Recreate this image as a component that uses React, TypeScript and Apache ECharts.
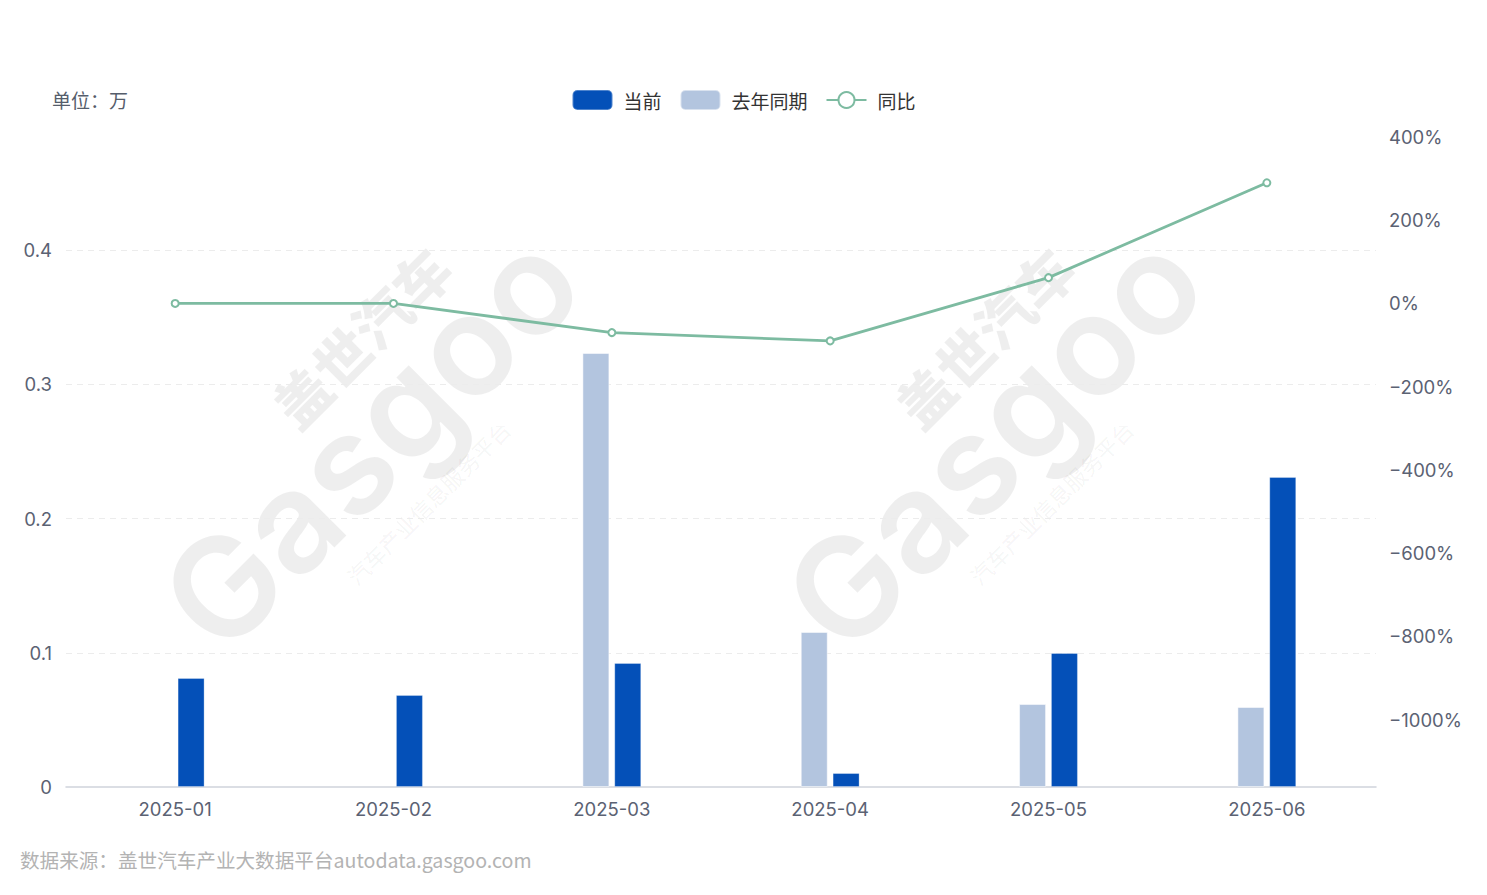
import React, { useEffect, useRef } from "react";
import * as echarts from "echarts";

const categories = ["2025-01", "2025-02", "2025-03", "2025-04", "2025-05", "2025-06"];
const currentValues = [0.0812, 0.0685, 0.0924, 0.0104, 0.0998, 0.2309];
const lastYearValues: (number | null)[] = [null, null, 0.3233, 0.1155, 0.0618, 0.0596];
const yoyValues = [0, 0, -70, -90, 62, 290];
const rightTicks = [-1000, -800, -600, -400, -200, 0, 200, 400];

const FONT = "Inter, 'Noto Sans CJK SC', sans-serif";
const CJK = "'Noto Sans CJK SC', Inter, sans-serif";

function watermark(dx: number) {
  const c = "rgba(0,0,0,0.065)";
  const rot = Math.PI / 4;
  return [
    {
      type: "text",
      x: 360 + dx,
      y: 336,
      rotation: rot,
      silent: true,
      z: -10,
      style: { text: "盖世汽车", fill: c, font: `900 56px ${CJK}`, align: "center", verticalAlign: "middle" },
    },
    {
      type: "text",
      x: 370 + dx,
      y: 440,
      rotation: rot,
      silent: true,
      z: -10,
      style: { text: "Gasgoo", fill: c, font: `600 140px ${FONT}`, align: "center", verticalAlign: "middle" },
    },
    {
      type: "text",
      x: 428 + dx,
      y: 502,
      rotation: rot,
      silent: true,
      z: -10,
      style: { text: "汽车产业信息服务平台", fill: "rgba(0,0,0,0.055)", font: `22px ${CJK}`, align: "center", verticalAlign: "middle" },
    },
  ];
}

export default function App() {
  const ref = useRef<HTMLDivElement>(null);
  useEffect(() => {
    if (!ref.current) return;
    const chart = echarts.init(ref.current, undefined, { renderer: "svg" });
    chart.setOption({
      animation: false,
      backgroundColor: "#ffffff",
      textStyle: { fontFamily: FONT },
      graphic: [
        ...watermark(0),
        ...watermark(623),
        {
          type: "text",
          left: 52,
          top: 90,
          style: { text: "单位：万", fill: "#555d6b", font: `19px ${CJK}` },
        },
        {
          type: "text",
          left: 20,
          top: 850,
          style: { text: "数据来源：盖世汽车产业大数据平台autodata.gasgoo.com", fill: "#b3b3b3", font: `19.6px ${CJK}` },
        },
      ],
      legend: {
        top: 84,
        left: "center",
        itemWidth: 40,
        itemHeight: 20,
        itemGap: 18,
        data: ["当前", "去年同期", "同比"],
        textStyle: { fontSize: 19, color: "#333", fontFamily: CJK, padding: [0, 0, 0, 6] },
      },
      grid: { left: 66, right: 111, top: 137, bottom: 108, containLabel: false },
      xAxis: {
        type: "category",
        data: categories,
        axisLine: { lineStyle: { color: "#cfd3db", width: 1.5 } },
        axisTick: { show: false },
        axisLabel: { color: "#5b6273", fontSize: 18.5, margin: 13 },
      },
      yAxis: [
        {
          type: "value",
          min: 0,
          max: 0.4842,
          interval: 0.1,
          axisLine: { show: false },
          axisTick: { show: false },
          axisLabel: { color: "#5b6273", fontSize: 18.5, margin: 14, showMaxLabel: false },
          splitLine: {
            show: true,
            showMinLine: false,
            showMaxLine: false,
            lineStyle: { color: "#ececec", type: [6, 5], width: 1 },
          },
        },
        {
          type: "value",
          min: -1162,
          max: 400,
          position: "right",
          axisLine: { show: false },
          axisTick: { show: false },
          splitLine: { show: false },
          axisLabel: {
            color: "#5b6273",
            fontSize: 18.5,
            margin: 13,
            customValues: rightTicks,
            formatter: (v: number) => `${v}%`.replace("-", "−"),
          },
        },
      ],
      series: [
        {
          name: "去年同期",
          type: "bar",
          data: lastYearValues,
          barWidth: 27,
          barGap: "18%",
          itemStyle: { color: "#b3c5df", borderColor: "rgba(255,255,255,0.5)", borderWidth: 1 },
        },
        {
          name: "当前",
          type: "bar",
          data: currentValues,
          barWidth: 27,
          barGap: "18%",
          itemStyle: { color: "#0450b8", borderColor: "rgba(255,255,255,0.3)", borderWidth: 1 },
        },
        {
          name: "同比",
          type: "line",
          yAxisIndex: 1,
          data: yoyValues,
          symbol: "emptyCircle",
          symbolSize: 7,
          lineStyle: { color: "#7dbba1", width: 2.8 },
          itemStyle: { color: "#7dbba1", borderWidth: 2 },
          z: 5,
        },
      ],
    });
    return () => chart.dispose();
  }, []);
  return <div ref={ref} style={{ width: 1487, height: 895, position: "absolute", left: 0, top: 0 }} />;
}
